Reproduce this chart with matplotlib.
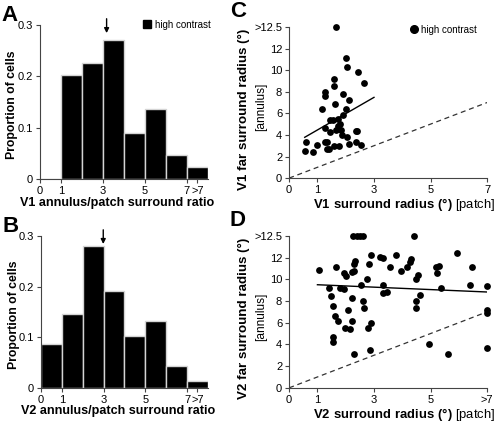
import numpy as np
import matplotlib
matplotlib.use("Agg")
import matplotlib.pyplot as plt
from matplotlib.patches import Patch
from matplotlib.lines import Line2D

plt.rcParams['font.family'] = ['Liberation Sans', 'DejaVu Sans']
plt.rcParams['mathtext.fontset'] = 'custom'
plt.rcParams['mathtext.rm'] = 'Liberation Sans'
plt.rcParams['mathtext.bf'] = 'Liberation Sans:bold'

# histogram data (bin left edges, last bin is ">7")
bin_left = [0, 1, 2, 3, 4, 5, 6, 7]
v1_prop = [0.0, 0.202, 0.2255, 0.270, 0.090, 0.1355, 0.046, 0.0227]
v2_prop = [0.087, 0.146, 0.2795, 0.191, 0.1015, 0.131, 0.043, 0.013]
v1_median = 3.17
v2_median = 2.98
hist_xticks = [0, 1, 3, 5, 7, 7.5]
hist_xlabels = ['0', '1', '3', '5', '7', '>7']
hist_yticks = [0, 0.1, 0.2, 0.3]
hist_ylabels = ['0', '0.1', '0.2', '0.3']

# scatter data: patch surround radius vs annulus far surround radius (14 = ">12.5")
v1_patch = [1.64, 2.0, 2.04, 2.45, 2.66, 1.58, 1.58, 1.27, 1.27, 1.92, 2.11, 1.61,
            1.15, 2.0, 1.91, 1.44, 1.55, 1.73, 1.79, 1.71, 1.28, 1.85, 1.65, 1.44,
            1.87, 2.04, 2.36, 2.4, 0.58, 0.98, 1.26, 1.34, 2.11, 2.35, 2.55, 0.55,
            0.86, 1.34, 1.4, 1.59, 1.76]
v1_annulus = [14, 11.1, 10.3, 9.85, 8.8, 9.2, 8.5, 8.0, 7.6, 7.8, 7.2, 6.9,
              6.4, 6.4, 5.8, 5.4, 5.4, 5.5, 5.0, 4.8, 4.6, 4.5, 4.5, 4.25,
              4.0, 3.85, 4.35, 4.35, 3.3, 3.1, 3.3, 3.3, 3.2, 3.3, 3.1, 2.55,
              2.4, 2.7, 2.7, 3.0, 3.0]
v1_fit_x = [0.55, 3.0]
v1_fit_y = [3.78, 7.48]

v2_patch = [1.06, 1.4, 1.49, 1.56, 1.62, 1.74, 1.54, 1.54, 1.67, 1.81, 1.93, 1.94,
            2.01, 1.96, 2.07, 2.14, 2.21, 2.22, 2.21, 2.31, 2.32, 2.28, 2.29, 2.25,
            2.4, 2.5, 2.6, 2.53, 2.61, 2.66, 2.75, 2.82, 2.89, 2.8, 2.9, 2.86,
            3.2, 3.32, 3.32, 3.32, 3.47, 3.56, 3.78, 3.94, 4.16, 4.26, 4.31, 4.42,
            4.47, 4.54, 4.49, 4.49, 4.62, 4.96, 5.19, 5.22, 5.31, 5.38, 5.61, 5.95,
            6.4, 6.47, 7.0, 7.0, 7.0, 7.0]
v2_annulus = [10.9, 9.2, 8.5, 7.5, 6.6, 6.2, 4.7, 4.25, 11.1, 9.2, 9.1, 10.55,
              10.3, 5.5, 7.2, 5.4, 6.2, 8.3, 10.7, 10.8, 11.65, 11.4, 3.15, 14,
              14, 14, 14, 9.5, 8.0, 7.4, 10.0, 11.45, 12.2, 5.5, 6.0, 3.45,
              12.05, 12.0, 9.5, 8.7, 8.8, 11.1, 12.2, 10.75, 11.1, 11.6, 11.9, 14,
              10.0, 10.4, 8.0, 7.4, 8.55, 4.0, 11.1, 10.6, 11.2, 9.2, 3.1, 12.45,
              9.5, 11.15, 9.4, 7.2, 6.85, 3.7]
v2_fit_x = [1.0, 7.0]
v2_fit_y = [9.5, 8.83]

unity = [0, 7]
sc_yticks = [0, 2, 4, 6, 8, 10, 12, 14]
sc_ylabels = ['0', '2', '4', '6', '8', '10', '12', '>12.5']
sc_xticks = [0, 1, 3, 5, 7]

spine_col = '#444444'
tick_fs = 8

fig = plt.figure(figsize=(4.96, 4.22), dpi=100)
axA = fig.add_axes([0.081, 0.576, 0.338, 0.365])
axB = fig.add_axes([0.083, 0.081, 0.336, 0.360])
axC = fig.add_axes([0.583, 0.578, 0.399, 0.358])
axD = fig.add_axes([0.583, 0.081, 0.399, 0.360])


def style(ax):
    for s in ['top', 'right']:
        ax.spines[s].set_visible(False)
    for s in ['left', 'bottom']:
        ax.spines[s].set_color(spine_col)
        ax.spines[s].set_linewidth(0.8)
    ax.tick_params(direction='out', length=3, width=0.8, color=spine_col,
                   labelsize=tick_fs, pad=2)


def hist_panel(ax, props, med, region, letter):
    ax.bar(bin_left, props, width=1.0, align='edge', color='black',
           edgecolor='#d4d4d4', linewidth=1.0)
    ax.set_xlim(0, 8)
    ax.set_ylim(0, 0.3)
    ax.set_xticks(hist_xticks)
    ax.set_xticklabels(hist_xlabels)
    ax.set_yticks(hist_yticks)
    ax.set_yticklabels(hist_ylabels)
    style(ax)
    ax.set_xlabel(region + ' annulus/patch surround ratio', fontsize=9.1,
                  fontweight='bold')
    ax.xaxis.set_label_coords(0.46, -0.115)
    ax.set_ylabel('Proportion of cells', fontsize=8.8, fontweight='bold')
    ax.yaxis.set_label_coords(-0.13, 0.48)
    ax.annotate('', xy=(med, 0.284), xytext=(med, 0.312), annotation_clip=False,
                arrowprops=dict(arrowstyle='-|>', color='black', lw=1.0,
                                mutation_scale=7, shrinkA=0, shrinkB=0))
    ax.text(-0.23, 1.13, letter, transform=ax.transAxes, fontsize=16,
            fontweight='bold', va='top', ha='left')


def scatter_panel(ax, xs, ys, fx, fy, region, letter, xlast):
    ax.plot(unity, unity, color='#333333', lw=0.9, ls=(0, (4, 3)))
    ax.plot(fx, fy, color='black', lw=1.0)
    ax.scatter(xs, ys, s=24, color='black', zorder=3, clip_on=False,
               linewidths=0)
    ax.set_xlim(0, 7)
    ax.set_ylim(0, 14)
    ax.set_xticks(sc_xticks)
    ax.set_xticklabels(['0', '1', '3', '5', xlast])
    ax.set_yticks(sc_yticks)
    ax.set_yticklabels(sc_ylabels)
    style(ax)
    ax.set_xlabel(r'$\bf{' + region + r'\ surround\ radius\ (°)}$ [patch]',
                  fontsize=9.4)
    ax.xaxis.set_label_coords(0.58, -0.12)
    ax.text(-0.227, 0.457, region + ' far surround radius (°)', transform=ax.transAxes,
            rotation=90, fontsize=9.6, fontweight='bold', ha='center', va='center')
    ax.text(-0.14, 0.47, '[annulus]', transform=ax.transAxes, rotation=90,
            fontsize=8.6, ha='center', va='center')
    ax.text(-0.30, 1.17, letter, transform=ax.transAxes, fontsize=16,
            fontweight='bold', va='top', ha='left')


hist_panel(axA, v1_prop, v1_median, 'V1', 'A')
hist_panel(axB, v2_prop, v2_median, 'V2', 'B')
scatter_panel(axC, v1_patch, v1_annulus, v1_fit_x, v1_fit_y, 'V1', 'C', '7')
scatter_panel(axD, v2_patch, v2_annulus, v2_fit_x, v2_fit_y, 'V2', 'D', '>7')

axA.legend(handles=[Patch(facecolor='black', edgecolor='black')], labels=['high contrast'],
           loc='upper right', bbox_to_anchor=(1.04, 1.06), frameon=False,
           fontsize=7, handlelength=0.8, handleheight=0.8, handletextpad=0.4,
           borderaxespad=0)
axC.legend(handles=[Line2D([], [], marker='o', color='black', ls='', markersize=5.5)],
           labels=['high contrast'], loc='upper right', bbox_to_anchor=(0.965, 1.04),
           frameon=False, fontsize=7, handlelength=0.6, handletextpad=0.4,
           borderaxespad=0)

fig.savefig('out.png', dpi=100)
